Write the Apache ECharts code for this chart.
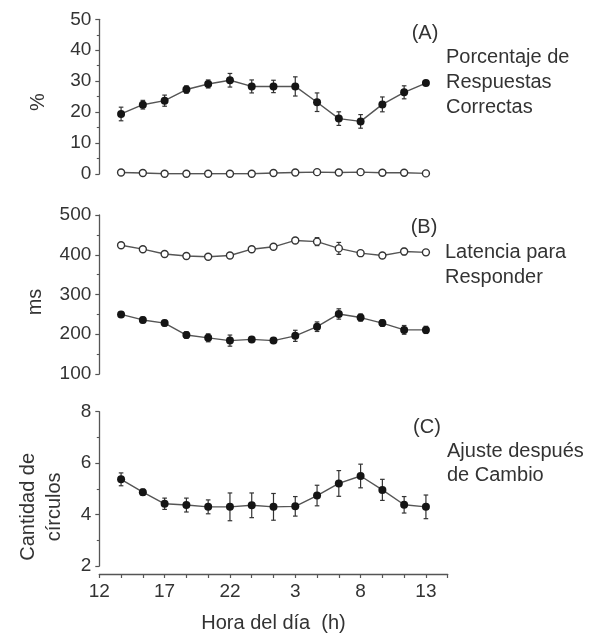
<!DOCTYPE html>
<html><head><meta charset="utf-8">
<script src="https://cdn.jsdelivr.net/npm/echarts@6/dist/echarts.min.js"></script>
<style>html,body{margin:0;padding:0;background:#fff}#c{width:598px;height:634px}</style>
</head><body><div id="c"></div>
<script>
// time points (continuous clock hours, 24+ = next day)
const hours = [13.667, 15.333, 17, 18.667, 20.333, 22, 23.667, 25.333, 27, 28.667, 30.333, 32, 33.667, 35.333, 37];
const hourMajorTicks = [12, 17, 22, 27, 32, 37];
const hourAllTicks = [12, 13.667, 15.333, 17, 18.667, 20.333, 22, 23.667, 25.333, 27, 28.667, 30.333, 32, 33.667, 35.333, 37, 38.667];
const hourMin = 12, hourMax = 38.667;

// Panel A: % correct responses
const correctPct    = [19.4, 22.4, 23.7, 27.3, 29.1, 30.3, 28.3, 28.3, 28.3, 23.2, 17.9, 17.0, 22.5, 26.4, 29.4];
const correctPctErr = [2.2, 1.4, 1.8, 1.2, 1.3, 2.2, 2.1, 2.0, 3.1, 3.0, 2.2, 2.2, 2.4, 2.1, 0.5];
const openPct       = [0.5, 0.3, 0.1, 0.1, 0.1, 0.1, 0.1, 0.3, 0.5, 0.6, 0.5, 0.6, 0.4, 0.4, 0.2];
const openPctErr    = [0.2, 0.2, 0.2, 0.2, 0.2, 0.2, 0.2, 0.2, 0.2, 0.2, 0.2, 0.2, 0.2, 0.2, 0.2];

// Panel B: latency (ms)
const latencyOpen      = [424, 414, 402, 397, 395, 398, 414, 420, 436, 433, 416, 404, 398, 408, 406];
const latencyOpenErr   = [5, 5, 5, 5, 5, 5, 6, 6, 6, 10, 15, 6, 5, 8, 7];
const latencyFilled    = [250, 236, 228, 198, 191, 184, 187, 184, 196, 219, 251, 242, 228, 211, 211];
const latencyFilledErr = [6, 7, 7, 8, 10, 14, 7, 6, 14, 12, 13, 9, 8, 11, 9];

// Panel C: adjustment after change (circles)
const adjust    = [5.37, 4.87, 4.42, 4.37, 4.30, 4.30, 4.36, 4.30, 4.32, 4.74, 5.21, 5.50, 4.96, 4.38, 4.30];
const adjustErr = [0.25, 0.12, 0.22, 0.27, 0.27, 0.54, 0.48, 0.52, 0.38, 0.40, 0.50, 0.46, 0.41, 0.32, 0.46];

const FONT = "'Liberation Sans', Arial, Helvetica, sans-serif";
const TXT = '#333333';
const AX = '#555555';
const LINE = '#555555';
const TICK_FS = 19;
const NAME_FS = 20;

const chart = echarts.init(document.getElementById('c'), null, {renderer: 'canvas'});

const grids = [
  {left: 99.3, width: 348.4, top: 19.3, height: 154.7},
  {left: 99.3, width: 348.4, top: 215, height: 159},
  {left: 99.3, width: 348.4, top: 411.7, height: 157.6}
];

function xAx(g, show) {
  return {
    type: 'value', gridIndex: g, min: hourMin, max: hourMax, show: show,
    position: 'bottom', offset: 8,
    axisLine: {show: true, lineStyle: {color: AX, width: 1.3}},
    axisTick: {show: true, length: 4, customValues: hourAllTicks, lineStyle: {color: AX, width: 1.2}},
    axisLabel: {show: true, customValues: hourMajorTicks, margin: 8, fontSize: TICK_FS, color: TXT, fontFamily: FONT,
      formatter: v => String(Math.round(v) % 24)},
    splitLine: {show: false},
    name: show ? 'Hora del día  (h)' : '', nameLocation: 'middle', nameGap: 39,
    nameTextStyle: {fontSize: NAME_FS, color: TXT, fontFamily: FONT}
  };
}
function yAx(g, min, max, interval, name, nameGap, shiftPad) {
  return {
    type: 'value', gridIndex: g, min: min, max: max, interval: interval,
    axisLine: {show: true, lineStyle: {color: AX, width: 1.3}},
    axisTick: {show: true, length: 4, lineStyle: {color: AX, width: 1.2}},
    minorTick: {show: true, splitNumber: 2, length: 2.5, lineStyle: {color: AX, width: 1.1}},
    axisLabel: {margin: 8, fontSize: TICK_FS, color: TXT, fontFamily: FONT},
    splitLine: {show: false},
    name: name, nameLocation: 'middle', nameGap: nameGap, nameRotate: 90,
    nameTextStyle: {fontSize: NAME_FS, color: TXT, fontFamily: FONT, lineHeight: 26, padding: [0, shiftPad, 0, 0]}
  };
}

function lineSeries(g, vals, filled) {
  return {
    type: 'line', xAxisIndex: g, yAxisIndex: g,
    data: hours.map((h, i) => [h, vals[i]]),
    symbol: 'circle', symbolSize: filled ? 8 : 7,
    lineStyle: {color: LINE, width: 1.4},
    itemStyle: filled ? {color: '#151515', borderColor: '#151515', borderWidth: 0}
                      : {color: '#ffffff', borderColor: '#333333', borderWidth: 1.4},
    z: 3, silent: true, animation: false
  };
}
function errSeries(g, vals, errs) {
  return {
    type: 'custom', xAxisIndex: g, yAxisIndex: g, silent: true, animation: false, z: 2,
    data: hours.map((h, i) => [h, vals[i] - errs[i], vals[i] + errs[i]]),
    renderItem: function (params, api) {
      const x = api.value(0);
      const lo = api.coord([x, api.value(1)]);
      const hi = api.coord([x, api.value(2)]);
      const w = 2.3;
      const st = {stroke: '#333333', lineWidth: 1.2};
      return {type: 'group', children: [
        {type: 'line', shape: {x1: lo[0], y1: lo[1], x2: hi[0], y2: hi[1]}, style: st},
        {type: 'line', shape: {x1: lo[0] - w, y1: lo[1], x2: lo[0] + w, y2: lo[1]}, style: st},
        {type: 'line', shape: {x1: hi[0] - w, y1: hi[1], x2: hi[0] + w, y2: hi[1]}, style: st}
      ]};
    }
  };
}

const txtStyle = (t, x, y, align, lh) => ({
  type: 'text', x: x, y: y, silent: true,
  style: {text: t, fontSize: NAME_FS, fontFamily: FONT, fill: TXT, align: align, verticalAlign: 'top', lineHeight: lh}
});

chart.setOption({
  animation: false,
  backgroundColor: '#ffffff',
  grid: grids,
  xAxis: [xAx(0, false), xAx(1, false), xAx(2, true)],
  yAxis: [
    yAx(0, 0, 50, 10, '%', 48, 11),
    yAx(1, 100, 500, 100, 'ms', 48, 15),
    yAx(2, 2, 8, 2, 'Cantidad de\ncírculos', 32, 36)
  ],
  series: [
    errSeries(0, correctPct, correctPctErr),
    errSeries(0, openPct, openPctErr),
    lineSeries(0, openPct, false),
    lineSeries(0, correctPct, true),
    errSeries(1, latencyOpen, latencyOpenErr),
    errSeries(1, latencyFilled, latencyFilledErr),
    lineSeries(1, latencyOpen, false),
    lineSeries(1, latencyFilled, true),
    errSeries(2, adjust, adjustErr),
    lineSeries(2, adjust, true)
  ],
  graphic: [
    txtStyle('(A)', 425, 20.5, 'center', 25),
    txtStyle('Porcentaje de\nRespuestas\nCorrectas', 446, 44.8, 'left', 25),
    txtStyle('(B)', 424, 214.5, 'center', 25),
    txtStyle('Latencia para\nResponder', 445, 239.5, 'left', 25),
    txtStyle('(C)', 427, 414.5, 'center', 25),
    txtStyle('Ajuste después\nde Cambio', 447, 440, 'left', 23.5)
  ]
});
</script>
</body></html>
